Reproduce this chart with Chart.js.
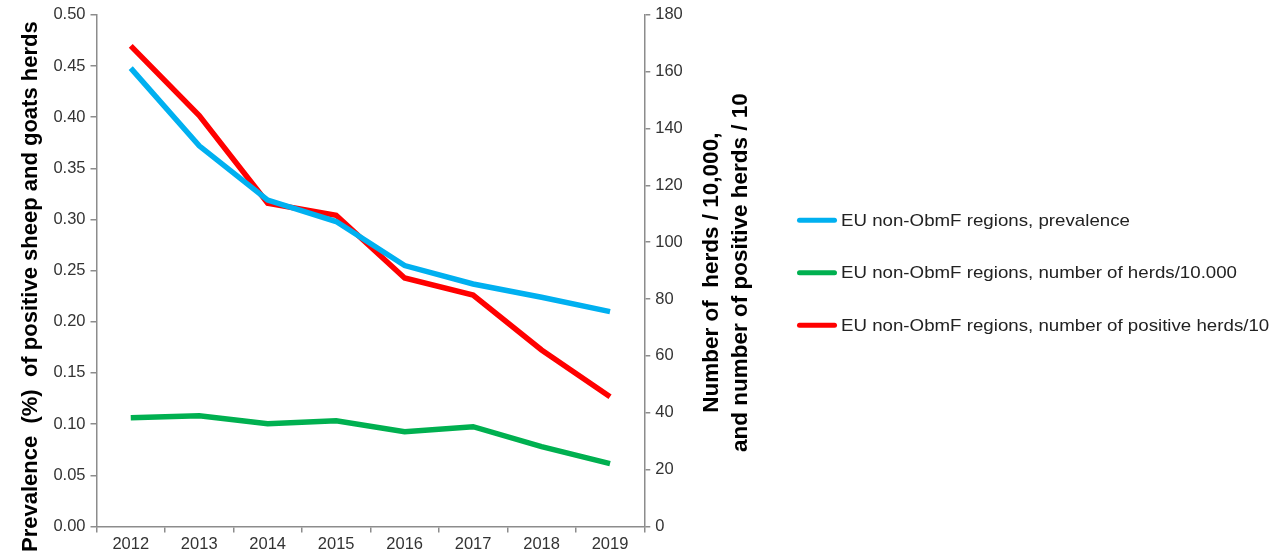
<!DOCTYPE html>
<html>
<head>
<meta charset="utf-8">
<script src="https://cdn.jsdelivr.net/npm/chart.js@4"></script>
<style>
  html, body { margin: 0; padding: 0; background: #fff; }
  #wrap { width: 1288px; height: 557px; }
</style>
</head>
<body>
<div id="wrap"><canvas id="prevChart" width="1288" height="557"></canvas></div>
<script>
const years = ['2012', '2013', '2014', '2015', '2016', '2017', '2018', '2019'];
const prevalence = [0.448, 0.372, 0.319, 0.298, 0.255, 0.237, 0.224, 0.210];   // left axis, %
const herds = [38.2, 38.9, 36.1, 37.2, 33.3, 35.1, 28.1, 22.1];                 // right axis, herds/10,000
const positiveHerds = [169.1, 144.6, 113.7, 109.5, 87.4, 81.4, 62.1, 45.6];     // right axis, positive herds/10

const leftTitle = 'Prevalence  (%)  of positive sheep and goats herds';
const rightTitle = ['Number of  herds / 10,000,', 'and number of positive herds / 10'];

const axisGrey = '#8c8c8c';
const tickColor = '#333333';
const fontFam = '"Liberation Sans", Arial, sans-serif';

// axis titles read bottom-to-top on both sides, so they are drawn here;
// the scale titles stay transparent just to keep their room in the layout.
// the legend is drawn here as well to place it next to the right axis.
const sidePlugin = {
  id: 'sidePlugin',
  afterDraw(chart) {
    const c = chart.ctx;
    const area = chart.chartArea;
    const midY = (area.top + area.bottom) / 2;
    const yl = chart.scales.y;
    const yr = chart.scales.y1;

    c.save();
    c.fillStyle = '#000';
    c.textAlign = 'center';
    c.textBaseline = 'middle';

    c.font = 'bold 22px ' + fontFam;
    c.save();
    c.translate(yl.left + 15, midY + 16);
    c.rotate(-Math.PI / 2);
    c.fillText(leftTitle, 0, 0);
    c.restore();

    const lh = 22 * 1.3;
    c.font = 'bold 22.5px ' + fontFam;
    rightTitle.forEach((line, i) => {
      c.save();
      c.translate(yr.right - 2 * lh + (i + 0.5) * lh, midY + 2);
      c.rotate(-Math.PI / 2);
      c.fillText(line, 0, 0);
      c.restore();
    });

    // legend
    const x0 = yr.right + 42;
    const gap = 52.5;
    c.font = '17px ' + fontFam;
    c.textAlign = 'left';
    chart.data.datasets.forEach((ds, i) => {
      const y = midY + 2 + (i - 1) * gap;
      c.fillStyle = ds.borderColor;
      c.beginPath();
      c.roundRect(x0, y - 2.5, 40, 5, 2.5);
      c.fill();
      c.fillStyle = '#222';
      c.save();
      c.translate(x0 + 44, y + 1);
      c.scale(1.1, 1);
      c.fillText(ds.label, 0, 0);
      c.restore();
    });
    c.restore();
  }
};

const ctx = document.getElementById('prevChart').getContext('2d');
new Chart(ctx, {
  type: 'line',
  data: {
    labels: years,
    datasets: [
      {
        label: 'EU non-ObmF regions, prevalence',
        data: prevalence,
        yAxisID: 'y',
        borderColor: '#00b0f0',
        borderWidth: 5.5,
        pointRadius: 0,
        tension: 0
      },
      {
        label: 'EU non-ObmF regions, number of herds/10.000',
        data: herds,
        yAxisID: 'y1',
        borderColor: '#00b050',
        borderWidth: 5.5,
        pointRadius: 0,
        tension: 0
      },
      {
        label: 'EU non-ObmF regions, number of positive herds/10',
        data: positiveHerds,
        yAxisID: 'y1',
        borderColor: '#ff0000',
        borderWidth: 5.5,
        pointRadius: 0,
        tension: 0
      }
    ]
  },
  options: {
    responsive: false,
    animation: false,
    layout: { padding: { left: 16, top: 4, bottom: 0, right: 533 } },
    scales: {
      x: {
        offset: true,
        grid: { offset: true, drawOnChartArea: false, drawTicks: true, tickLength: 6, color: axisGrey, lineWidth: 1.5 },
        border: { color: axisGrey, width: 1.5 },
        ticks: { color: tickColor, font: { family: fontFam, size: 16.5, lineHeight: 0.4 }, padding: 9 }
      },
      y: {
        position: 'left',
        min: 0,
        max: 0.5,
        grid: { drawOnChartArea: false, tickLength: 6, color: axisGrey, lineWidth: 1.5 },
        border: { color: axisGrey, width: 1.5 },
        ticks: {
          stepSize: 0.05,
          color: tickColor,
          font: { family: fontFam, size: 16.5 },
          padding: 5,
          callback: v => v.toFixed(2)
        },
        title: {
          display: true,
          text: leftTitle,
          color: 'rgba(0,0,0,0)',
          font: { family: fontFam, size: 22, weight: 'bold', lineHeight: 1.2 },
          padding: { top: 0, bottom: 6 }
        }
      },
      y1: {
        position: 'right',
        min: 0,
        max: 180,
        grid: { drawOnChartArea: false, tickLength: 6, color: axisGrey, lineWidth: 1.5 },
        border: { color: axisGrey, width: 1.5 },
        ticks: { stepSize: 20, color: tickColor, font: { family: fontFam, size: 16.5 }, padding: 5 },
        title: {
          display: true,
          text: rightTitle,
          color: 'rgba(0,0,0,0)',
          font: { family: fontFam, size: 22, weight: 'bold', lineHeight: 1.3 },
          padding: { top: 10, bottom: 0 }
        }
      }
    },
    plugins: {
      legend: { display: false },
      tooltip: { enabled: false }
    }
  },
  plugins: [sidePlugin]
});
</script>
</body>
</html>
